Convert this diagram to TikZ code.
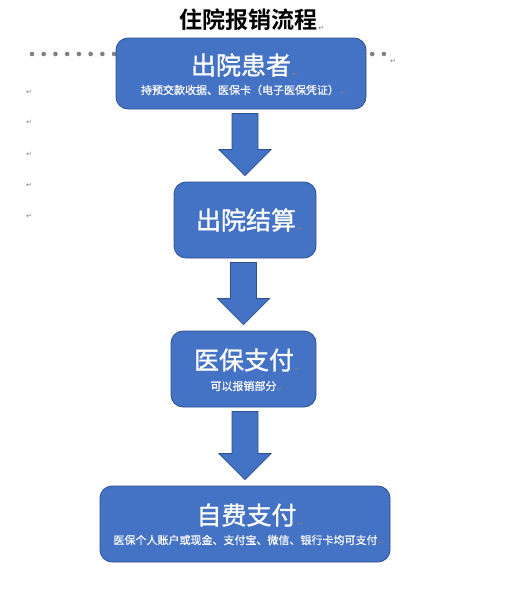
\documentclass[tikz,border=0pt]{standalone}
\usepackage{fontspec}
\newfontfamily\cjk[FakeBold=0.6]{Noto Sans CJK SC}
\newfontfamily\cjkbig[FakeBold=1.2]{Noto Sans CJK SC}
\newfontfamily\cjkbold{Noto Sans CJK SC Bold}
\newfontfamily\symfont{DejaVu Sans}
\usetikzlibrary{calc}
\definecolor{boxblue}{HTML}{4472C4}
\definecolor{boxline}{HTML}{2F528F}
\tikzset{>=stealth}
\tikzset{
  stepbox/.style={draw=boxline, fill=boxblue, line width=0.8pt, rounded corners=12pt, inner sep=0pt},
  bigtext/.style={text=white, font=\cjkbig\fontsize{25}{25}\selectfont, inner sep=0pt},
  smalltext/.style={text=white, font=\cjk\fontsize{11}{11}\selectfont, inner sep=0pt},
  blockarrow/.style={draw=boxline, fill=boxblue, line width=0.8pt},
  retmark/.style={text=gray, font=\symfont\fontsize{7}{7}\selectfont, inner sep=0pt}
}
\newcommand{\downblock}[2]{%
  \draw[blockarrow] let \p1=(#1.south), \p2=(#2.north) in
    (\x2-13pt,\y1-4pt) -- (\x2+13pt,\y1-4pt) -- (\x2+13pt,\y2+32pt) -- (\x2+26pt,\y2+32pt)
    -- (\x2,\y2+6pt) -- (\x2-26pt,\y2+32pt) -- (\x2-13pt,\y2+32pt) -- cycle;}

\begin{document}
\begin{tikzpicture}[x=1pt,y=-1pt]
    \useasboundingbox[fill=white] (0,0) rectangle (519,613);
    % title
    \node[font=\cjkbold\fontsize{23}{23}\selectfont, inner sep=0pt] (title) at (248,20) {住院报销流程};
    \node[retmark, anchor=south west] (rtitle) at ([xshift=1pt]title.south east) {↵};
    % dotted line behind the first box
    \foreach \i in {0,...,30}
        \fill[gray] (32+11.73*\i,54) circle [radius=2.3pt];
    \node[retmark] (rdots) at (393,61) {↵};
    \foreach \y [count=\k] in {92,122,154,185,216}
        \node[retmark] (rleft\k) at (29,\y) {↵};
    % boxes
    \node[stepbox, minimum width=250pt, minimum height=71pt] (b1) at (241,73.5) {};
    \node[stepbox, minimum width=142pt, minimum height=76pt] (b2) at (245,220) {};
    \node[stepbox, minimum width=145pt, minimum height=76pt] (b3) at (243.5,369) {};
    \node[stepbox, minimum width=290pt, minimum height=76pt] (b4) at (245,524) {};
    % texts
    \node[bigtext] (t1) at (241,65) {出院患者};
    \node[smalltext] (s1) at (240,90) {持预交款收据、医保卡（电子医保凭证）};
    \node[bigtext] (t2) at (246,220) {出院结算};
    \node[bigtext] (t3) at (244,360) {医保支付};
    \node[smalltext] (s3) at (243.5,386) {可以报销部分};
    \node[bigtext] (t4) at (246.5,515) {自费支付};
    \node[smalltext] (s4) at (245.5,540) {医保个人账户或现金、支付宝、微信、银行卡均可支付};
    \foreach \t in {t1,t2,t3,t4}
        \node[retmark, anchor=south west] at ([xshift=0.5pt]\t.south east) {↵};
    \foreach \t in {s1,s3,s4}
        \node[retmark, anchor=south west] at ([xshift=0.5pt]\t.south east) {↵};
    % arrows
    \downblock{b1}{b2}
    \downblock{b2}{b3}
    \downblock{b3}{b4}
\end{tikzpicture}
\end{document}
